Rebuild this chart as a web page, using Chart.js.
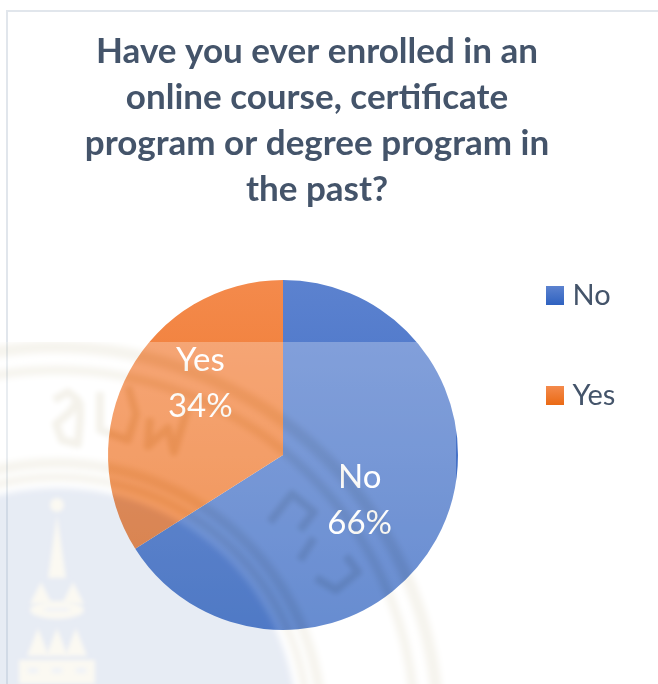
<!DOCTYPE html>
<html>
<head>
<meta charset="utf-8">
<style>
  html, body { margin: 0; padding: 0; background: #fff; }
  canvas { display: block; }
</style>
<script src="https://cdn.jsdelivr.net/npm/chart.js@4/dist/chart.umd.min.js"></script>
</head>
<body>
<canvas id="myChart" width="658" height="684"></canvas>
<script>
const categories = ['No', 'Yes'];
const shares = [66, 34];
const titleLines = [
    'Have you ever enrolled in an',
    'online course, certificate',
    'program or degree program in',
    'the past?'
];

const FONT_FAMILY = 'Lato, "Open Sans", sans-serif';
const TEXT_COLOR = '#44546a';
const SLICE_COLORS = [['#5c82cf', '#2f62c0'], ['#f48a4c', '#ea6a14']];

// label nudges away from the arc midpoint, in pixels
const LABEL_OFFSETS = [[0, 3], [-6, -29]];

function verticalGradient(ctx, top, bottom, colors) {
    const g = ctx.createLinearGradient(0, top, 0, bottom);
    g.addColorStop(0, colors[0]);
    g.addColorStop(1, colors[1]);
    return g;
}

function sliceFill(context) {
    const chart = context.chart;
    const colors = SLICE_COLORS[context.dataIndex];
    if (!chart.chartArea) return colors[0];
    return verticalGradient(chart.ctx, chart.chartArea.top, chart.chartArea.bottom, colors);
}

function polyline(c, pts) {
    c.beginPath();
    pts.forEach((p, i) => i ? c.lineTo(p[0], p[1]) : c.moveTo(p[0], p[1]));
    c.stroke();
}

function triangle(c, x, top, half, bottom) {
    c.beginPath();
    c.moveTo(x, top);
    c.lineTo(x + half, bottom);
    c.lineTo(x - half, bottom);
    c.closePath();
    c.fill();
}

// the faded university seal that sits in front of the lower part of the page
function buildSeal() {
    const off = document.createElement('canvas');
    off.width = 658;
    off.height = 684;
    const c = off.getContext('2d');
    const cx = 57, cy = 728;

    c.fillStyle = '#fff';
    c.fillRect(0, 0, 658, 684);
    c.filter = 'blur(3px)';

    c.strokeStyle = '#dcd5be';
    [[381, 12], [358, 9], [265, 10], [251, 8]].forEach(r => {
        c.lineWidth = r[1];
        c.beginPath();
        c.arc(cx, cy, r[0], 0, Math.PI * 2);
        c.stroke();
    });

    c.fillStyle = '#a6b7d7';
    c.beginPath();
    c.arc(cx, cy, 240, 0, Math.PI * 2);
    c.fill();

    // spire
    c.filter = 'blur(2px)';
    c.fillStyle = '#efe8cf';
    c.beginPath();
    c.arc(cx, 505, 7, 0, Math.PI * 2);
    c.fill();
    triangle(c, cx, 515, 9, 578);
    [-16, 16].forEach(dx => triangle(c, cx + dx, 582, 11, 604));
    c.beginPath();
    c.ellipse(cx, 610, 27, 9, 0, 0, Math.PI * 2);
    c.fill();
    [-19, 0, 19].forEach(dx => triangle(c, cx + dx, 628, 11, 656));
    c.fillRect(cx - 38, 660, 76, 24);
    c.fillStyle = '#c4cfe3';
    c.fillRect(cx - 12, 608, 24, 3);
    [-24, 0, 24].forEach(dx => c.fillRect(cx + dx - 5, 668, 10, 5));

    // seal lettering
    c.filter = 'blur(2.5px)';
    c.strokeStyle = '#d6ceb4';
    c.lineWidth = 8;
    c.lineJoin = 'round';
    polyline(c, [[54, 400], [68, 392], [78, 400], [70, 412], [56, 424], [62, 440], [78, 444], [80, 420], [80, 402]]);
    polyline(c, [[100, 392], [100, 430], [128, 440], [136, 414], [128, 386]]);
    polyline(c, [[150, 418], [148, 446], [168, 428], [174, 452], [184, 420], [188, 408]]);
    polyline(c, [[270, 522], [292, 494], [314, 512], [300, 530]]);
    polyline(c, [[300, 560], [314, 538]]);
    polyline(c, [[316, 578], [336, 590], [358, 572], [346, 556]]);

    return off;
}

const sealImage = buildSeal();

const decorPlugin = {
    id: 'decor',
    beforeDraw(chart) {
        const ctx = chart.ctx;
        ctx.save();
        ctx.fillStyle = '#e1e6ec';
        ctx.fillRect(6, 10, 652, 2);
        ctx.fillRect(6, 10, 2, 674);
        ctx.restore();
    },
    afterLayout(chart) {
        // legend column sits beside the top of the pie
        const legend = chart.legend;
        const pad = legend.options.labels.padding;
        legend.left = 552 - pad;
        legend.top = 281 - pad;
    },
    afterDatasetsDraw(chart) {
        const ctx = chart.ctx;
        const arcs = chart.getDatasetMeta(0).data;

        ctx.save();
        ctx.fillStyle = '#fff';
        ctx.font = '33px ' + FONT_FAMILY;
        ctx.textAlign = 'center';
        ctx.textBaseline = 'middle';
        arcs.forEach((arc, i) => {
            const pos = arc.tooltipPosition();
            const x = pos.x + LABEL_OFFSETS[i][0];
            const y = pos.y + LABEL_OFFSETS[i][1];
            ctx.fillText(categories[i], x, y - 23);
            ctx.fillText(shares[i] + '%', x, y + 23);
        });
        ctx.restore();

        ctx.save();
        ctx.globalAlpha = 0.27;
        ctx.drawImage(sealImage, 0, 342, 456, 342, 0, 342, 456, 342);
        ctx.restore();
    }
};

function drawChart() {
    const ctx = document.getElementById('myChart').getContext('2d');
    new Chart(ctx, {
        type: 'pie',
        plugins: [decorPlugin],
        data: {
            labels: categories,
            datasets: [{
                data: shares,
                backgroundColor: sliceFill,
                borderWidth: 0,
                hoverOffset: 0
            }]
        },
        options: {
            responsive: false,
            animation: false,
            layout: {
                padding: { left: 0, right: 24, top: 0, bottom: 54 }
            },
            plugins: {
                title: {
                    display: true,
                    text: titleLines,
                    color: TEXT_COLOR,
                    font: { family: FONT_FAMILY, size: 35, weight: 'bold', lineHeight: 46 / 35 },
                    padding: { top: 29, bottom: 67 }
                },
                legend: {
                    position: 'right',
                    align: 'start',
                    maxWidth: 68,
                    labels: {
                        // small box plus a wide stroke keeps the text close to the swatch
                        boxWidth: 6,
                        boxHeight: 7,
                        padding: 71,
                        font: { family: FONT_FAMILY, size: 29 },
                        generateLabels(chart) {
                            return categories.map((name, i) => {
                                const swatch = verticalGradient(chart.ctx, 286 + i * 100, 305 + i * 100, SLICE_COLORS[i]);
                                return {
                                    text: name,
                                    fontColor: TEXT_COLOR,
                                    fillStyle: swatch,
                                    strokeStyle: swatch,
                                    lineWidth: 12,
                                    index: i
                                };
                            });
                        }
                    }
                },
                tooltip: { enabled: false }
            }
        }
    });
}

drawChart();
</script>
</body>
</html>
